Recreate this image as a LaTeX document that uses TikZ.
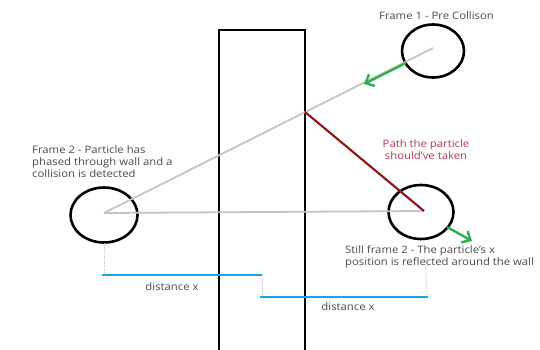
\documentclass[tikz,border=0pt]{standalone}
\usepackage{fontspec}
\setmainfont[FakeStretch=1.1]{Open Sans}
\usetikzlibrary{shapes.geometric,arrows.meta}
\definecolor{raygray}{HTML}{C4C4C4}
\definecolor{pathred}{HTML}{8E1B1E}
\definecolor{labelred}{HTML}{B0384E}
\definecolor{distblue}{HTML}{1EA3E8}
\definecolor{velgreen}{HTML}{2EAF4E}
\definecolor{txtgray}{HTML}{4A4A4A}
\begin{document}
\begin{tikzpicture}[x=1pt,y=-1pt,
  particle/.style={draw=black,line width=2.6pt,ellipse,inner sep=0pt},
  ray/.style={draw=raygray,line width=1.8pt},
  dist/.style={draw=distblue,line width=2.2pt},
  guide/.style={draw=raygray,line width=0.8pt,densely dotted},
  vel/.style={draw=velgreen,line width=2.4pt,-{Straight Barb[length=7pt,width=13pt,line width=2.4pt]}},
  note/.style={text=txtgray,font=\fontsize{10.3}{12}\selectfont,inner sep=0pt,align=left},
  wall/.style={draw=black,line width=2.8pt}]
\useasboundingbox (0,0) rectangle (540,350);

% the wall, open at the bottom
\draw[wall] (219,356) -- (219,30) -- (305,30) -- (305,356);

% particle centres
\coordinate (p1) at (433,48);
\coordinate (p2) at (104,213);
\coordinate (p3) at (424,211);
\coordinate (hit) at (305,112);

% particles
\node[particle,minimum width=62pt,minimum height=53pt] (c1) at (433,51) {};
\node[particle,minimum width=67pt,minimum height=55pt] (c2) at (104,215) {};
\node[particle,minimum width=65pt,minimum height=54pt] (c3) at (421,212) {};

% trajectories
\draw[ray] (p1) -- (p2);
\draw[ray] (p2) -- (p3);
\draw[draw=pathred,line width=2.2pt] (hit) -- (p3);

% velocity arrows
\coordinate (v1s) at (406,63);
\coordinate (v1e) at (364,84);
\coordinate (v3s) at (447,227);
\coordinate (v3e) at (472,241);
\draw[vel] (v1s) -- (v1e);
\draw[vel] (v3s) -- (v3e);

% distance markers
\coordinate (d1a) at (102,275);
\coordinate (d1b) at (262,275);
\coordinate (d2a) at (260,297);
\coordinate (d2b) at (428,297);
\coordinate (g2) at (104,272);
\coordinate (g3) at (427,294);
\draw[guide] (p2) ++(0,30) -- (g2);
\draw[guide] (p3) ++(0,30) -- (g3);
\draw[guide] (d1b) -- (262,297);
\draw[dist] (d1a) -- (d1b);
\draw[dist] (d2a) -- (d2b);
\node[note] (dx1) at (172,287) {distance x};
\node[note] (dx2) at (348,307) {distance x};

% captions
\node[note,anchor=west] (t1) at (379,16) {Frame 1 - Pre Collison};
\node[note,anchor=north west] (t2) at (32,145) {Frame 2 - Particle has\\phased through wall and a\\collision is detected};
\node[note,anchor=north,align=center,text=labelred] (t3) at (426,139) {Path the particle\\should've taken};
\node[note,anchor=north west] (t4) at (345,245) {Still frame 2 - The particle's x\\position is reflected around the wall};
\end{tikzpicture}
\end{document}
